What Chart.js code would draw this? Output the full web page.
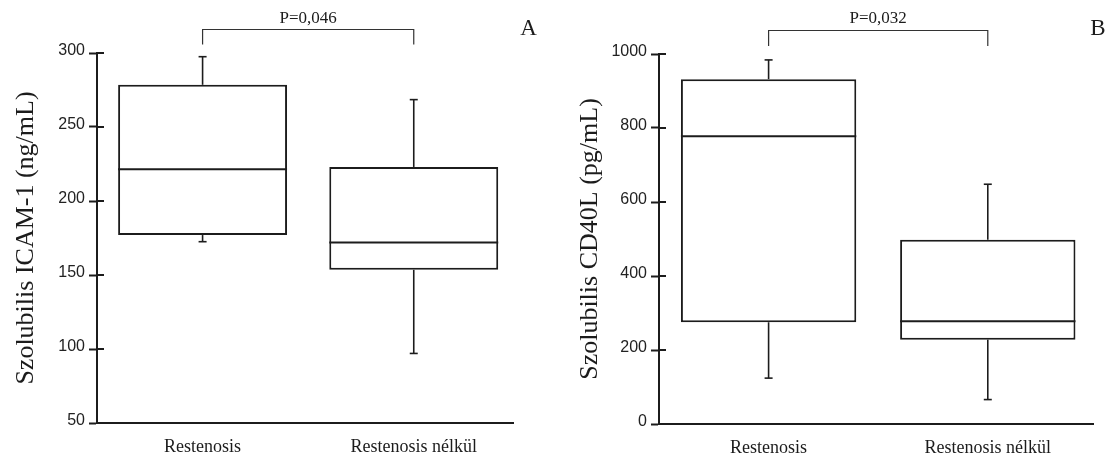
<!DOCTYPE html>
<html>
<head>
<meta charset="utf-8">
<title>Szolubilis ICAM-1 és CD40L</title>
<script src="https://cdn.jsdelivr.net/npm/chart.js@4/dist/chart.umd.min.js"></script>
<style>
  html, body { margin: 0; padding: 0; background: #fff; }
  #wrap { position: relative; width: 1114px; height: 459px; overflow: hidden; }
  .panel { position: absolute; top: 0; width: 557px; height: 459px; }
  canvas { display: block; }
</style>
</head>
<body>
<div id="wrap">
  <div class="panel" style="left:0"><canvas id="chartA" width="557" height="459"></canvas></div>
  <div class="panel" style="left:557px"><canvas id="chartB" width="557" height="459"></canvas></div>
</div>
<script>
const groups = ['Restenosis', 'Restenosis nélkül'];

// Szolubilis ICAM-1 (ng/mL): whisker ends, quartiles, median
const icamMin = [172.5, 97];
const icamQ1 = [177, 153.5];
const icamMedian = [221.5, 172];
const icamQ3 = [278.5, 223];
const icamMax = [297.5, 268.5];
const icamTicks = [50, 100, 150, 200, 250, 300];

// Szolubilis CD40L (pg/mL)
const cd40Min = [124, 66];
const cd40Q1 = [275, 228];
const cd40Median = [778, 278];
const cd40Q3 = [932, 498];
const cd40Max = [984, 648];
const cd40Ticks = [0, 200, 400, 600, 800, 1000];

const pValues = ['P=0,046', 'P=0,032'];
const panelLetters = ['A', 'B'];

const INK = '#1c1c1c';
const SERIF = "'Liberation Serif', 'Times New Roman', serif";
const SANS = "'Liberation Sans', Arial, sans-serif";

function strokeLine(ctx, x1, y1, x2, y2) {
  ctx.beginPath();
  ctx.moveTo(x1, y1);
  ctx.lineTo(x2, y2);
  ctx.stroke();
}

// medians, whiskers, inner tick marks, significance bracket and panel letter
const boxExtras = {
  id: 'boxExtras',
  afterDatasetsDraw(chart, args, o) {
    const { ctx, scales: { x, y } } = chart;
    const meta = chart.getDatasetMeta(0);
    ctx.save();
    ctx.strokeStyle = INK;
    o.median.forEach((m, i) => {
      const bar = meta.data[i];
      const cx = x.getPixelForValue(i + 1);
      const half = bar.width / 2;
      ctx.lineWidth = 2;
      const ym = y.getPixelForValue(m);
      strokeLine(ctx, cx - half, ym, cx + half, ym);
      ctx.lineWidth = 1.6;
      const yq3 = y.getPixelForValue(o.q3[i]);
      const yMax = y.getPixelForValue(o.max[i]);
      strokeLine(ctx, cx, yq3, cx, yMax);
      strokeLine(ctx, cx - 4, yMax, cx + 4, yMax);
      const yq1 = y.getPixelForValue(o.q1[i]);
      const yMin = y.getPixelForValue(o.min[i]);
      strokeLine(ctx, cx, yq1, cx, yMin);
      strokeLine(ctx, cx - 4, yMin, cx + 4, yMin);
    });
    ctx.restore();
  },
  afterDraw(chart, args, o) {
    const { ctx, chartArea, scales: { x, y } } = chart;
    ctx.save();
    ctx.strokeStyle = INK;
    // tick marks reaching into the plot area
    ctx.lineWidth = 2;
    y.ticks.forEach(t => {
      if (t.value === y.min) return;
      const py = Math.round(y.getPixelForValue(t.value));
      strokeLine(ctx, chartArea.left, py, chartArea.left + 7, py);
    });
    // significance bracket
    const x1 = x.getPixelForValue(1);
    const x2 = x.getPixelForValue(2);
    ctx.lineWidth = 1.2;
    ctx.strokeStyle = '#333';
    ctx.beginPath();
    ctx.moveTo(x1, o.bracketBottom);
    ctx.lineTo(x1, o.bracketTop);
    ctx.lineTo(x2, o.bracketTop);
    ctx.lineTo(x2, o.bracketBottom);
    ctx.stroke();
    ctx.fillStyle = INK;
    ctx.textAlign = 'center';
    ctx.textBaseline = 'alphabetic';
    ctx.font = '17px ' + SERIF;
    ctx.fillText(o.pText, (x1 + x2) / 2, 23);
    ctx.font = '23px ' + SERIF;
    ctx.fillText(o.letter, o.letterX, 35);
    ctx.restore();
  }
};

function makePanel(id, s) {
  return new Chart(document.getElementById(id), {
    type: 'bar',
    data: {
      datasets: [{
        data: groups.map((g, i) => ({ x: i + 1, y: [s.q1[i], s.q3[i]] })),
        backgroundColor: '#ffffff',
        borderColor: INK,
        borderWidth: 2,
        borderSkipped: false,
        categoryPercentage: 1,
        barPercentage: 0.8
      }]
    },
    plugins: [boxExtras],
    options: {
      responsive: false,
      animation: false,
      events: [],
      layout: { padding: s.padding },
      plugins: {
        legend: { display: false },
        tooltip: { enabled: false },
        boxExtras: {
          min: s.min, q1: s.q1, median: s.median, q3: s.q3, max: s.max,
          pText: s.pText, letter: s.letter, letterX: s.letterX,
          bracketTop: s.bracketTop, bracketBottom: s.bracketBottom
        }
      },
      scales: {
        x: {
          type: 'linear',
          offset: false,
          min: 0.5,
          max: s.xMax,
          grid: { display: false, drawTicks: false, offset: false },
          border: { display: true, width: 2, color: INK },
          afterBuildTicks: ax => { ax.ticks = groups.map((g, i) => ({ value: i + 1 })); },
          afterFit: ax => { ax.height = s.xHeight; },
          ticks: {
            autoSkip: false,
            maxRotation: 0,
            padding: 13,
            color: INK,
            font: { family: SERIF, size: 18 },
            callback: v => groups[v - 1]
          }
        },
        y: {
          type: 'linear',
          min: s.ticks[0],
          max: s.ticks[s.ticks.length - 1],
          afterBuildTicks: ax => { ax.ticks = s.ticks.map(v => ({ value: v })); },
          afterFit: ax => { ax.width = s.yWidth; },
          grid: { drawOnChartArea: false, drawTicks: true, tickLength: 8, tickWidth: 2, tickColor: INK },
          border: { display: true, width: 2, color: INK },
          ticks: {
            padding: 4,
            labelOffset: -2,
            color: '#222',
            font: { family: SANS, size: 16 },
            callback: v => String(v)
          },
          title: {
            display: true,
            text: s.title,
            color: INK,
            padding: 0,
            font: { family: SERIF, size: 26 }
          }
        }
      }
    }
  });
}

makePanel('chartA', {
  min: icamMin, q1: icamQ1, median: icamMedian, q3: icamQ3, max: icamMax,
  ticks: icamTicks,
  title: 'Szolubilis ICAM-1 (ng/mL)',
  pText: pValues[0], letter: panelLetters[0], letterX: 528.5,
  bracketTop: 29.5, bracketBottom: 44.5,
  padding: { top: 53, left: 11, right: 44, bottom: 0 },
  yWidth: 86, xHeight: 36, xMax: 2.47
});

makePanel('chartB', {
  min: cd40Min, q1: cd40Q1, median: cd40Median, q3: cd40Q3, max: cd40Max,
  ticks: cd40Ticks,
  title: 'Szolubilis CD40L (pg/mL)',
  pText: pValues[1], letter: panelLetters[1], letterX: 541,
  bracketTop: 30.5, bracketBottom: 46,
  padding: { top: 54, left: 18, right: 21, bottom: 0 },
  yWidth: 84, xHeight: 35, xMax: 2.48
});
</script>
</body>
</html>
